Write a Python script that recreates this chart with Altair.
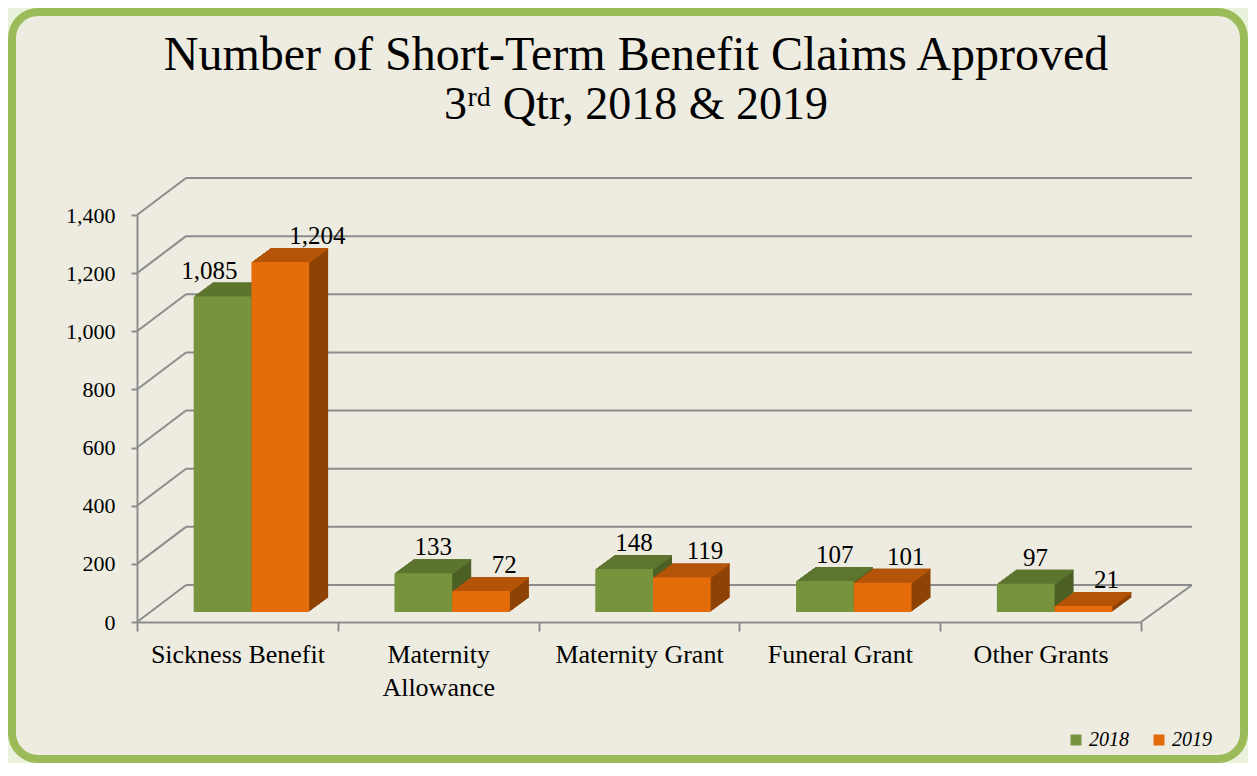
import altair as alt
import pandas as pd

# ---------------- data ----------------
categories = ["Sickness Benefit", "Maternity Allowance", "Maternity Grant",
              "Funeral Grant", "Other Grants"]
claims_2018 = [1085, 133, 148, 107, 97]
claims_2019 = [1204, 72, 119, 101, 21]
years = ["2018", "2019"]
y_ticks = [0, 200, 400, 600, 800, 1000, 1200, 1400]

rows = []
for c, a, b in zip(categories, claims_2018, claims_2019):
    rows.append({"category": c, "year": "2018", "value": a})
    rows.append({"category": c, "year": "2019", "value": b})
df = pd.DataFrame(rows)
ticks_df = pd.DataFrame({"tick": y_ticks})

# ---------------- styling / geometry constants ----------------
W, H = 1004, 407
PAD = {"left": 129, "top": 207, "right": 107, "bottom": 141}
WALL_DX, WALL_DY = 49, 37          # depth of the 3-D box
BAR_DX, BAR_DY = 14, 10            # front face of bars inside the box
DEPTH_X, DEPTH_Y = 19, 14          # depth of each bar
STEPS = 14
BAR_BAND = 0.2875                  # bar width as a fraction of category band
HALF_BAR = W / 5 * BAR_BAND / 2    # centre shift of each bar in the group

FONT = "Liberation Serif"
GRID = "#8C8C8C"
front_colors = ["#77933C", "#E46C0A"]
top_colors = {"2018": "#5D752F", "2019": "#B35408"}
side_colors = {"2018": "#4C6026", "2019": "#8E4306"}
group_shift = {"2018": -HALF_BAR, "2019": HALF_BAR}

y_scale = alt.Scale(domain=[0, 1400], nice=False, zero=True)
y_axis = alt.Axis(values=y_ticks, labelExpr="format(datum.value, ',')",
                  title=None, grid=False,
                  labelFont=FONT, labelFontSize=22, labelColor="black",
                  labelPadding=16, tickSize=6, tickColor=GRID, tickWidth=2,
                  domainColor=GRID, domainWidth=2, zindex=1)
x_axis = alt.Axis(title=None, labelAngle=0, labelFont=FONT, labelFontSize=26,
                  labelColor="black", labelPadding=10, tickSize=9,
                  tickColor=GRID, tickWidth=2, domainColor=GRID,
                  domainWidth=2, tickBand="extent", labelLimit=400,
                  labelLineHeight=33, zindex=1,
                  labelExpr="datum.label == 'Maternity Allowance' ? ['Maternity', 'Allowance'] : datum.label")
x_scale = alt.Scale(domain=categories, paddingInner=0, paddingOuter=0)


def X():
    return alt.X("category:N", sort=categories, scale=x_scale, axis=x_axis)


def Y(field="value:Q"):
    return alt.Y(field, scale=y_scale, axis=y_axis)


def series(year):
    return alt.Chart(df).transform_filter(alt.datum.year == year)


layers = []

# panel frame
frame = alt.Chart(alt.Data(values=[{}])).mark_rect(
    fill="#EEECE1", stroke="#9BBB59", strokeWidth=8, cornerRadius=26
).encode(x=alt.value(-125), x2=alt.value(1107),
         y=alt.value(-203), y2=alt.value(544))
layers.append(frame)

# diagonal connectors from front axis to back wall
diag = alt.Chart(ticks_df).mark_rule(
    color=GRID, strokeWidth=2, y2Offset=-WALL_DY
).encode(x=alt.value(0), x2=alt.value(WALL_DX), y=Y("tick:Q"), y2="tick:Q")
layers.append(diag)

# back wall gridlines
back = alt.Chart(ticks_df).mark_rule(
    color=GRID, strokeWidth=2, yOffset=-WALL_DY
).encode(x=alt.value(WALL_DX), x2=alt.value(W + WALL_DX + 2), y=Y("tick:Q"))
layers.append(back)

# right floor edge
floor_r = alt.Chart(ticks_df).transform_filter(alt.datum.tick == 0).mark_rule(
    color=GRID, strokeWidth=2, y2Offset=-WALL_DY
).encode(x=alt.value(W), x2=alt.value(W + WALL_DX + 2), y=Y("tick:Q"),
         y2="tick:Q")
layers.append(floor_r)

sx = DEPTH_X / STEPS
sy = DEPTH_Y / STEPS
for yr in years:
    gx = group_shift[yr] + BAR_DX
    # side faces (extrusion)
    for k in range(STEPS, 0, -1):
        ox = gx + k * sx
        oy = -(BAR_DY + k * sy)
        layers.append(series(yr).mark_bar(
            width={"band": BAR_BAND}, color=side_colors[yr],
            xOffset=ox, yOffset=oy, y2Offset=oy
        ).encode(x=X(), y=Y()))
    # top faces
    for k in range(STEPS, 0, -1):
        ox = gx + k * sx
        oy = -(BAR_DY + k * sy)
        layers.append(series(yr).mark_bar(
            width={"band": BAR_BAND}, color=top_colors[yr],
            xOffset=ox, yOffset=oy, y2Offset=oy + sy + 0.7
        ).encode(x=X(), y=Y(), y2="value:Q"))
    # front face
    layers.append(series(yr).mark_bar(
        width={"band": BAR_BAND}, xOffset=gx, yOffset=-BAR_DY, y2Offset=-BAR_DY
    ).encode(
        x=X(), y=Y(),
        color=alt.Color("year:N", scale=alt.Scale(domain=years, range=front_colors),
                        legend=alt.Legend(
                            title=None, orient="none", legendX=929, legendY=515,
                            direction="horizontal", symbolType="square",
                            symbolSize=121, symbolStrokeWidth=0,
                            labelFont=FONT, labelFontStyle="italic",
                            labelFontSize=20, labelColor="black",
                            labelOffset=3, columnPadding=20, padding=0,
                            zindex=1))
    ))

# value labels
label_dx = {"2018": (-5, -28), "2019": (66, 80)}
for yr in years:
    normal, tall = label_dx[yr]
    for cond, dx in ((alt.datum.value < 1000, normal), (alt.datum.value >= 1000, tall)):
        layers.append(series(yr).transform_filter(cond).mark_text(
            font=FONT, fontSize=25, color="black", baseline="middle",
            dx=dx, dy=-36
        ).encode(x=X(), y=Y(), text=alt.Text("value:Q", format=",")))

chart = alt.layer(*layers).properties(
    width=W, height=H,
    autosize=alt.AutoSizeParams(type="none"),
    padding=PAD,
    background="#EAF1DD",
    title=alt.TitleParams(
        text="Number of Short-Term Benefit Claims Approved",
        subtitle="3ʳᵈ Qtr, 2018 & 2019",
        font=FONT, fontSize=48, fontWeight="normal", color="black",
        subtitleFont=FONT, subtitleFontSize=46, subtitleColor="black",
        subtitlePadding=3, anchor="middle", offset=-120, dx=-3, zindex=1
    )
).configure_view(stroke="transparent")

chart.save("out.html", embed_options={"renderer": "svg", "actions": False})
